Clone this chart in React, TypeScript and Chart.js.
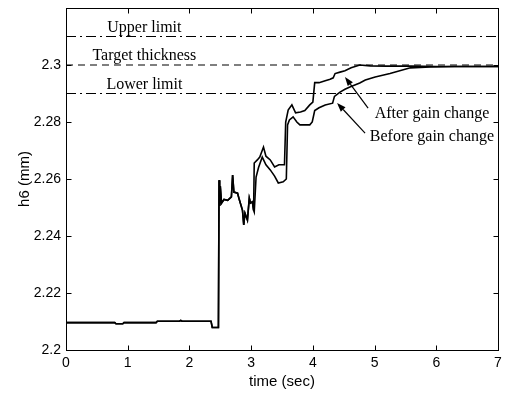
import React, { useEffect, useRef } from "react";
import { Chart, registerables } from "chart.js";

Chart.register(...registerables);

// Exit thickness h6 (mm) against time (sec). Both runs share the start-up transient.
const sharedTime = [0, 0.79, 0.81, 0.92, 0.94, 1.46, 1.48, 1.84, 1.86, 1.88, 2.35, 2.37, 2.47, 2.48, 2.49, 2.5, 2.52, 2.56, 2.62, 2.68, 2.7, 2.72, 2.78, 2.81, 2.86, 2.88, 2.9, 2.94, 2.97, 2.99, 3.02, 3.04];
const sharedH6 = [2.2096, 2.2096, 2.2092, 2.2092, 2.2096, 2.2096, 2.2101, 2.2101, 2.2104, 2.2101, 2.2101, 2.2079, 2.2079, 2.2596, 2.2505, 2.2575, 2.2515, 2.2528, 2.2525, 2.2537, 2.2614, 2.2554, 2.255, 2.2526, 2.249, 2.2439, 2.248, 2.2456, 2.2533, 2.2516, 2.252, 2.249];

// Response with the modified gain
const afterTime = [3.05, 3.1, 3.14, 3.2, 3.24, 3.31, 3.38, 3.45, 3.54, 3.56, 3.6, 3.66, 3.72, 3.8, 3.87, 3.95, 4.0, 4.03, 4.1, 4.2, 4.28, 4.33, 4.36, 4.44, 4.52, 4.62, 4.76, 4.93, 5.2, 5.6, 6.0, 7.0];
const afterH6 = [2.2656, 2.2667, 2.2677, 2.2712, 2.268, 2.2667, 2.2642, 2.265, 2.265, 2.28, 2.2842, 2.286, 2.2832, 2.2835, 2.284, 2.286, 2.287, 2.2938, 2.2938, 2.2945, 2.295, 2.2955, 2.297, 2.2975, 2.298, 2.299, 2.3, 2.2997, 2.2996, 2.2996, 2.2995, 2.2995];

// Response with the original gain
const beforeTime = [3.05, 3.08, 3.12, 3.18, 3.24, 3.31, 3.38, 3.44, 3.52, 3.57, 3.59, 3.62, 3.68, 3.74, 3.79, 3.95, 3.99, 4.03, 4.1, 4.2, 4.32, 4.35, 4.44, 4.52, 4.6, 4.76, 4.85, 5.01, 5.25, 5.58, 5.9, 6.3, 7.0];
const beforeH6 = [2.2484, 2.2607, 2.264, 2.2677, 2.265, 2.2632, 2.261, 2.2586, 2.259, 2.26, 2.279, 2.2807, 2.2818, 2.28, 2.279, 2.279, 2.28, 2.284, 2.285, 2.286, 2.2866, 2.289, 2.2905, 2.2915, 2.2923, 2.2937, 2.2947, 2.2958, 2.297, 2.299, 2.2993, 2.2995, 2.2995];

// Tolerance band around the target thickness
const limitNames = ["Upper limit", "Target thickness", "Lower limit"];
const limitValues = [2.31, 2.3, 2.29];

const xTicks = [0, 1, 2, 3, 4, 5, 6, 7];
const yTicks = [2.2, 2.22, 2.24, 2.26, 2.28, 2.3];

// Curve callouts: label anchor (time, h6) and arrow from tail to head
const calloutNames = ["After gain change", "Before gain change"];
const calloutLabelAt = [[5.93, 2.2814], [5.93, 2.2733]];
const calloutArrowTail = [[4.895, 2.2849], [4.846, 2.2761]];
const calloutArrowHead = [[4.52, 2.2958], [4.392, 2.2867]];

const toPoints = (t: number[], v: number[]) => t.map((x, i) => ({ x, y: v[i] }));

const SERIF = '"Liberation Serif", "Times New Roman", serif';
const SANS = '"Liberation Sans", Arial, sans-serif';

// Keep the plot box fixed: no extra room reserved for overhanging tick labels
const clearScalePadding = (s: any) => {
  s.paddingTop = 0;
  s.paddingBottom = 0;
  s.paddingLeft = 0;
  s.paddingRight = 0;
};

const framePlugin = {
  id: "matlabFrame",
  afterDatasetsDraw(chart: any) {
    const { ctx, chartArea: a, scales } = chart;
    const xs = scales.x;
    const ys = scales.y;
    const L = Math.round(a.left) + 0.5;
    const R = Math.round(a.right) + 0.5;
    const T = Math.round(a.top) + 0.5;
    const B = Math.round(a.bottom) + 0.5;
    ctx.save();
    ctx.strokeStyle = "#000";
    ctx.lineWidth = 1;
    ctx.strokeRect(L, T, R - L, B - T);
    const len = 5;
    ctx.beginPath();
    for (const t of xs.ticks) {
      const px = Math.round(xs.getPixelForValue(t.value)) + 0.5;
      ctx.moveTo(px, B);
      ctx.lineTo(px, B - len);
      ctx.moveTo(px, T);
      ctx.lineTo(px, T + len);
    }
    for (const t of ys.ticks) {
      const py = Math.round(ys.getPixelForValue(t.value)) + 0.5;
      ctx.moveTo(L, py);
      ctx.lineTo(L + len, py);
      ctx.moveTo(R, py);
      ctx.lineTo(R - len, py);
    }
    ctx.stroke();

    // Limit line captions, just above each line
    ctx.fillStyle = "#000";
    ctx.font = `16px ${SERIF}`;
    ctx.textAlign = "center";
    ctx.textBaseline = "alphabetic";
    limitNames.forEach((name, i) => {
      ctx.fillText(name, xs.getPixelForValue(1.27), ys.getPixelForValue(limitValues[i]) - 5);
    });

    // Curve callouts with arrows
    calloutNames.forEach((name, i) => {
      ctx.fillText(name, xs.getPixelForValue(calloutLabelAt[i][0]), ys.getPixelForValue(calloutLabelAt[i][1]));
      const x0 = xs.getPixelForValue(calloutArrowTail[i][0]);
      const y0 = ys.getPixelForValue(calloutArrowTail[i][1]);
      const x1 = xs.getPixelForValue(calloutArrowHead[i][0]);
      const y1 = ys.getPixelForValue(calloutArrowHead[i][1]);
      const ang = Math.atan2(y1 - y0, x1 - x0);
      const hl = 9;
      const hw = 3.2;
      const bx = x1 - hl * Math.cos(ang);
      const by = y1 - hl * Math.sin(ang);
      ctx.beginPath();
      ctx.moveTo(x0, y0);
      ctx.lineTo(bx, by);
      ctx.lineWidth = 1.2;
      ctx.stroke();
      ctx.beginPath();
      ctx.moveTo(x1, y1);
      ctx.lineTo(bx + hw * Math.sin(ang), by - hw * Math.cos(ang));
      ctx.lineTo(bx - hw * Math.sin(ang), by + hw * Math.cos(ang));
      ctx.closePath();
      ctx.fill();
    });
    ctx.restore();
  },
};

export default function App() {
  const canvasRef = useRef<HTMLCanvasElement | null>(null);

  useEffect(() => {
    if (!canvasRef.current) return;
    const limitDatasets = limitValues.map((v, i) => ({
      label: limitNames[i],
      data: [{ x: 0, y: v }, { x: 7, y: v }],
      borderColor: "#000",
      borderWidth: 1.2,
      borderDash: i === 1 ? [7, 5] : [10, 4, 2, 4],
      pointRadius: 0,
    }));
    const chart = new Chart(canvasRef.current, {
      type: "line",
      data: {
        datasets: [
          ...limitDatasets,
          {
            label: "Before gain change",
            data: toPoints([...sharedTime, ...beforeTime], [...sharedH6, ...beforeH6]),
            borderColor: "#000",
            borderWidth: 1.6,
            pointRadius: 0,
          },
          {
            label: "After gain change",
            data: toPoints([...sharedTime, ...afterTime], [...sharedH6, ...afterH6]),
            borderColor: "#000",
            borderWidth: 1.6,
            pointRadius: 0,
          },
        ],
      },
      options: {
        responsive: false,
        animation: false,
        devicePixelRatio: 1,
        layout: { padding: { top: 8, right: 12, left: 0, bottom: 0 } },
        plugins: { legend: { display: false }, tooltip: { enabled: false } },
        scales: {
          x: {
            type: "linear",
            min: 0,
            max: 7,
            afterBuildTicks: (s: any) => {
              s.ticks = xTicks.map((value) => ({ value }));
            },
            afterFit: (s: any) => {
              s.height = 43;
              clearScalePadding(s);
            },
            grid: { display: false, drawTicks: false },
            border: { display: false },
            ticks: {
              color: "#000",
              font: { family: SANS, size: 14 },
              padding: 5,
              maxRotation: 0,
              callback: (v: any) => String(v),
            },
            title: {
              display: true,
              text: "time (sec)",
              color: "#000",
              font: { family: SANS, size: 15 },
              padding: { top: 0, bottom: 2.6 },
            },
          },
          y: {
            type: "linear",
            min: 2.2,
            max: 2.32,
            afterBuildTicks: (s: any) => {
              s.ticks = yTicks.map((value) => ({ value }));
            },
            afterFit: (s: any) => {
              s.width = 66;
              clearScalePadding(s);
            },
            grid: { display: false, drawTicks: false },
            border: { display: false },
            ticks: {
              color: "#000",
              font: { family: SANS, size: 14 },
              padding: 5,
              callback: (v: any) => String(Number(Number(v).toFixed(2))),
            },
            title: {
              display: true,
              text: "h6 (mm)",
              color: "#000",
              font: { family: SANS, size: 15 },
              padding: { top: 15.6, bottom: 0 },
            },
          },
        },
      },
      plugins: [framePlugin],
    } as any);
    return () => chart.destroy();
  }, []);

  return (
    <div style={{ position: "absolute", left: 0, top: 0, width: 510, height: 393, background: "#fff" }}>
      <canvas ref={canvasRef} width={510} height={393} />
    </div>
  );
}
